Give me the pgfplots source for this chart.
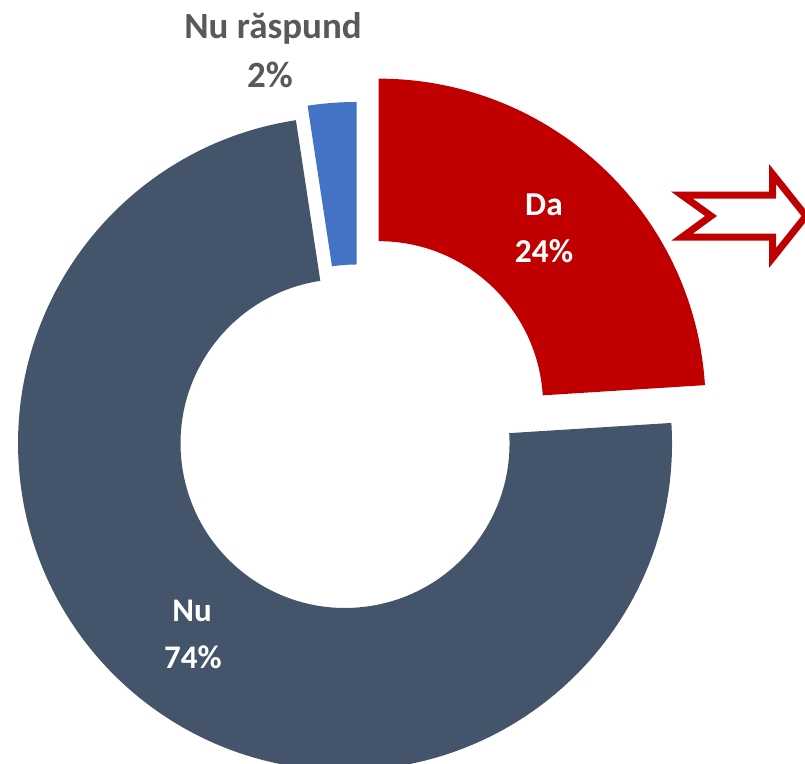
\documentclass[border=0pt]{standalone}
\usepackage{fontspec}
\setmainfont{Carlito}
\usepackage{pgfplots}
\pgfplotsset{compat=1.18}
\definecolor{dared}{HTML}{C00000}
\definecolor{nuslate}{HTML}{44546A}
\definecolor{nrblue}{HTML}{4472C4}
\definecolor{lblgray}{HTML}{595959}
% geometry in pixel units (1 unit = 0.5pt)
\def\cx{356.7}
\def\cy{335}   % 764-429
\def\Ro{327}
\def\Ri{164.5}
% \slice{cumulative start %}{value %}{explode px}{colour}
\newcommand{\slice}[4]{%
  \pgfmathsetmacro\aA{90-3.6*#1}%
  \pgfmathsetmacro\aB{90-3.6*(#1+#2)}%
  \pgfmathsetmacro\aM{(\aA+\aB)/2}%
  \pgfmathsetmacro\ox{\cx+#3*cos(\aM)}%
  \pgfmathsetmacro\oy{\cy+#3*sin(\aM)}%
  \pgfmathsetmacro\pAx{\ox+\Ro*cos(\aA)}%
  \pgfmathsetmacro\pAy{\oy+\Ro*sin(\aA)}%
  \pgfmathsetmacro\pBx{\ox+\Ri*cos(\aB)}%
  \pgfmathsetmacro\pBy{\oy+\Ri*sin(\aB)}%
  \pgfmathsetmacro\RoPt{0.5*\Ro}%
  \pgfmathsetmacro\RiPt{0.5*\Ri}%
  \edef\temp{\noexpand\fill[#4] (axis cs:\pAx,\pAy) arc[start angle=\aA, end angle=\aB, radius=\RoPt pt] -- (axis cs:\pBx,\pBy) arc[start angle=\aB, end angle=\aA, radius=\RiPt pt] -- cycle;}%
  \temp
}
\begin{document}
\begin{tikzpicture}
\begin{axis}[
  scale only axis, width=402.5pt, height=382pt,
  xmin=0, xmax=805, ymin=0, ymax=764,
  hide axis, clip=true]
% data: Da 24, Nu 73.6, Nu raspund 2.4 (percent)
\slice{0}{24.0}{32}{dared}
\slice{24.0}{73.6}{18.6}{nuslate}
\slice{97.6}{2.4}{0}{nrblue}
% arrow
\draw[dared, line width=3.5pt, fill=white, miter limit=10]
  (axis cs:682,568.8) -- (axis cs:772.5,568.8) -- (axis cs:772.5,590)
  -- (axis cs:806,548) -- (axis cs:772.5,506) -- (axis cs:772.5,526.8)
  -- (axis cs:682,526.8) -- (axis cs:711,548) -- cycle;
% labels
\node[anchor=base, text=white, font=\bfseries\fontsize{16.7}{20}\selectfont] at (axis cs:544,548) {Da};
\node[anchor=base, text=white, font=\bfseries\fontsize{16.7}{20}\selectfont] at (axis cs:544,501.3) {24\%};
\node[anchor=base, text=white, font=\bfseries\fontsize{16.5}{20}\selectfont] at (axis cs:192,142.3) {Nu};
\node[anchor=base, text=white, font=\bfseries\fontsize{16.5}{20}\selectfont] at (axis cs:193,95.7) {74\%};
\node[anchor=base, text=lblgray, font=\bfseries\fontsize{18.5}{22}\selectfont] at (axis cs:273,725.7) {Nu răspund};
\node[anchor=base, text=lblgray, font=\bfseries\fontsize{18.5}{22}\selectfont] at (axis cs:270,676.3) {2\%};
\end{axis}
\pgfresetboundingbox
\path (current axis.south west) rectangle (current axis.north east);
\end{tikzpicture}
\end{document}
